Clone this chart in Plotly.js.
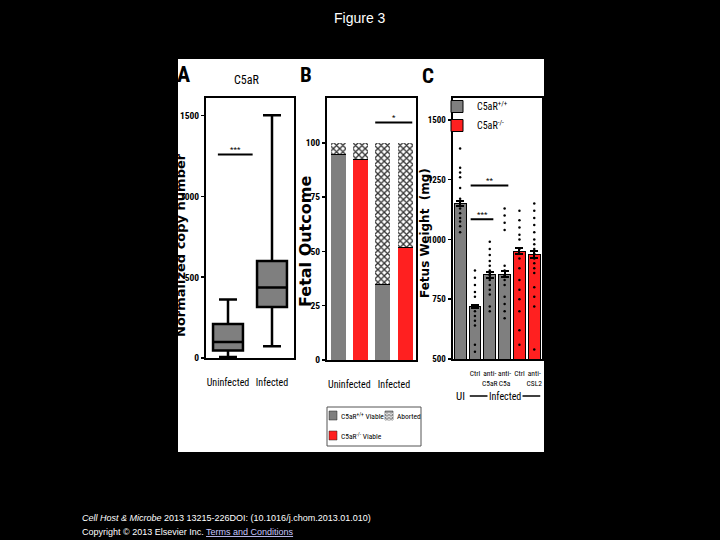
<!DOCTYPE html>
<html>
<head>
<meta charset="utf-8">
<script src="https://cdn.plot.ly/plotly-3.0.1.min.js"></script>
<style>html,body{margin:0;padding:0;background:#000;}#chart{width:720px;height:540px;}</style>
</head>
<body>
<div id="chart"></div>
<script>
// ---------- Panel A: C5aR copy number (box plot) ----------
const boxCategories = ['Uninfected', 'Infected'];
const boxLowerFence = [6, 72];
const boxQ1 = [46, 316];
const boxMedian = [99, 436];
const boxQ3 = [211, 601];
const boxUpperFence = [362, 1503];

// ---------- Panel B: fetal outcome (%) ----------
const outcomeGroups = ['Uninfected', 'Infected'];
const wtViable = [95, 35];      // C5aR+/+ viable
const koViable = [92.5, 52];    // C5aR-/- viable

// ---------- Panel C: fetus weight (mg) ----------
const weightTickVals = [1, 2, 3, 4, 5];
const weightTickText = ['Ctrl', 'anti-<br>C5aR', 'anti-<br>C5a', 'Ctrl', 'anti-<br>CSL2'];
const weightMeans = [1150, 719, 852, 855, 951, 937];
const weightSem = [10, 7, 12, 12, 12, 14];
const fetusUI = [1380, 1300, 1280, 1260, 1215, 1170, 1150, 1130, 1110, 1090, 1075, 1055, 1030];
const fetusCtrl = [870, 840, 810, 780, 760, 700, 680, 660, 640, 560, 530];
const fetusAntiC5aR = [990, 960, 935, 910, 890, 870, 860, 850, 830, 810, 790, 770, 720, 700];
const fetusAntiC5a = [1130, 1100, 1070, 1040, 890, 870, 850, 830, 810, 760, 730, 700, 670];
const fetusKoCtrl = [1120, 1080, 1050, 1020, 1000, 960, 940, 920, 880, 830, 790, 750, 700, 620, 560];
const fetusKoAntiCSL2 = [1150, 1120, 1090, 1060, 1030, 1000, 980, 960, 940, 920, 900, 880, 860, 800, 760, 720, 540];

// significance brackets: [from, to, level, label]
const sigA = [[-0.23, 0.56, 1260, '***']];
const sigB = [[1.66, 3.32, 109.4, '*']];
const sigC = [[0.71, 3.25, 1226, '**'], [0.71, 2.24, 1085, '***']];

const W = 720, H = 540;
const px = v => v / W;
const py = v => 1 - v / H;
const narrow = "'Roboto Condensed','Noto Sans Condensed','DejaVu Sans Condensed','Liberation Sans Narrow','Arial Narrow','Liberation Sans',Arial,sans-serif";
const heavy = "'DejaVu Sans', 'Liberation Sans', sans-serif";
const sans = "'Liberation Sans', Arial, sans-serif";
const GRAY = '#7f7f7f', RED = '#ff2020';

const traces = [];

// A
traces.push({
  type: 'box', x: [0, 1], q1: boxQ1, median: boxMedian, q3: boxQ3,
  lowerfence: boxLowerFence, upperfence: boxUpperFence,
  xaxis: 'x', yaxis: 'y', fillcolor: GRAY, line: {color: 'black', width: 2.5},
  width: 0.68, whiskerwidth: 0.6, boxpoints: false, showlegend: false, hoverinfo: 'skip'
});

// B
traces.push({
  type: 'bar', x: [0, 2], y: wtViable, xaxis: 'x2', yaxis: 'y2', width: 0.67,
  name: 'C5aR+/+ Viable', showlegend: false,
  marker: {color: GRAY, line: {width: 0}},
  error_y: {type: 'data', array: [0, 0], visible: true, color: 'black', thickness: 2, width: 7.5}
});
traces.push({
  type: 'bar', x: [1, 3], y: koViable, xaxis: 'x2', yaxis: 'y2', width: 0.67,
  name: 'C5aR-/- Viable', showlegend: false,
  marker: {color: RED, line: {width: 0}},
  error_y: {type: 'data', array: [0, 0], visible: true, color: 'black', thickness: 2, width: 7.5}
});
const abortedVals = [100 - wtViable[0], 100 - koViable[0], 100 - wtViable[1], 100 - koViable[1]];
traces.push({
  type: 'bar', x: [0, 1, 2, 3], y: abortedVals, xaxis: 'x2', yaxis: 'y2', width: 0.67,
  name: 'Aborted', showlegend: false,
  marker: {color: 'white', line: {width: 0}, pattern: {shape: 'x', fgcolor: '#333', bgcolor: 'white', size: 4.5, solidity: 0.5}}
});

// C
traces.push({
  type: 'bar', x: [0, 1, 2, 3], y: weightMeans.slice(0, 4), base: 0, xaxis: 'x3', yaxis: 'y3', width: 0.8,
  name: 'C5aR<sup>+/+</sup>', legend: 'legend',
  marker: {color: GRAY, line: {color: 'black', width: 1}},
  error_y: {type: 'data', array: weightSem.slice(0, 4), visible: true, color: 'black', thickness: 2, width: 4}
});
traces.push({
  type: 'bar', x: [4, 5], y: weightMeans.slice(4), base: 0, xaxis: 'x3', yaxis: 'y3', width: 0.8,
  name: 'C5aR<sup>-/-</sup>', legend: 'legend',
  marker: {color: RED, line: {color: 'black', width: 1}},
  error_y: {type: 'data', array: weightSem.slice(4), visible: true, color: 'black', thickness: 2, width: 4}
});
const groups = [fetusUI, fetusCtrl, fetusAntiC5aR, fetusAntiC5a, fetusKoCtrl, fetusKoAntiCSL2];
const dotX = [], dotY = [];
groups.forEach((g, i) => g.forEach(v => { dotX.push(i); dotY.push(v); }));
traces.push({
  type: 'scatter', mode: 'markers', x: dotX, y: dotY, xaxis: 'x3', yaxis: 'y3',
  marker: {color: 'black', size: 2.5, symbol: 'circle'}, showlegend: false, hoverinfo: 'skip'
});

const axBase = {
  showline: true, mirror: true, linecolor: 'black', linewidth: 2, showgrid: false, zeroline: false,
  fixedrange: true, color: 'black', tickangle: 0
};
const yBase = Object.assign({}, axBase, {
  ticks: 'outside', ticklen: 3, tickwidth: 1.5, tickcolor: 'black',
  tickfont: {family: narrow, size: 9.5, color: 'black', weight: 'bold'}
});
const xBase = Object.assign({}, axBase, {ticks: '', tickfont: {family: narrow, size: 10, color: 'black'}});

const shapes = [
  {type: 'rect', xref: 'paper', yref: 'paper', x0: px(178), x1: px(544), y0: py(452), y1: py(59),
   fillcolor: 'white', line: {width: 0}, layer: 'below'},
  // legend frame of panel B
  {type: 'rect', xref: 'paper', yref: 'paper', x0: px(327), x1: px(421), y0: py(446), y1: py(407),
   line: {color: '#555', width: 1}, fillcolor: 'rgba(0,0,0,0)'},
  // legend keys of panel B
  {type: 'rect', xref: 'paper', yref: 'paper', x0: px(329), x1: px(337), y0: py(420), y1: py(411),
   fillcolor: GRAY, line: {color: '#222', width: 0.5}},
  {type: 'rect', xref: 'paper', yref: 'paper', x0: px(329), x1: px(337), y0: py(440), y1: py(431),
   fillcolor: RED, line: {color: '#222', width: 0.5}},
  {type: 'rect', xref: 'paper', yref: 'paper', x0: px(385), x1: px(393), y0: py(420), y1: py(411),
   fillcolor: '#a0a0a0', line: {color: '#222', width: 0.5}},
  // "Infected" group rule of panel C
  {type: 'line', xref: 'x3', yref: 'paper', x0: 0.65, x1: 5.4, y0: py(396), y1: py(396),
   line: {color: 'black', width: 1.5}}
];
// hatch inside the "Aborted" key
for (let k = 0; k < 3; k++) {
  shapes.push({type: 'path', xref: 'paper', yref: 'paper',
    path: 'M' + px(385) + ',' + py(413 + 3 * k) + ' L' + px(387) + ',' + py(414.5 + 3 * k) + ' L' + px(389) + ',' + py(413 + 3 * k) +
          ' L' + px(391) + ',' + py(414.5 + 3 * k) + ' L' + px(393) + ',' + py(413 + 3 * k),
    line: {color: '#fff', width: 0.8}});
}
const annotations = [];
function addSig(list, xr, yr) {
  list.forEach(s => {
    shapes.push({type: 'line', xref: xr, yref: yr, x0: s[0], x1: s[1], y0: s[2], y1: s[2], line: {color: 'black', width: 2}});
    annotations.push({xref: xr, yref: yr, x: (s[0] + s[1]) / 2, y: s[2], xanchor: 'center', yanchor: 'bottom', yshift: -2,
      text: s[3], showarrow: false, font: {family: narrow, size: 8, color: 'black'}});
  });
}
addSig(sigA, 'x', 'y');
addSig(sigB, 'x2', 'y2');
addSig(sigC, 'x3', 'y3');

function txt(x, y, text, font, extra) {
  annotations.push(Object.assign({xref: 'paper', yref: 'paper', x: px(x), y: py(y), text: text,
    xanchor: 'center', yanchor: 'middle', showarrow: false, font: font}, extra || {}));
}
txt(360, 18, 'Figure 3', {family: sans, size: 14, color: 'white'});
txt(80, 518, '<i>Cell Host &amp; Microbe</i> 2013 13215-226DOI: (10.1016/j.chom.2013.01.010)',
    {family: sans, size: 9, color: 'white'}, {xanchor: 'left'});
txt(80, 532, 'Copyright © 2013 Elsevier Inc. <span style="color:#c8c8ff"><u>Terms and Conditions</u></span>',
    {family: sans, size: 9, color: 'white'}, {xanchor: 'left'});
txt(183, 74, '<b>A</b>', {family: narrow, size: 22, color: 'black'});
txt(306, 75, '<b>B</b>', {family: narrow, size: 21, color: 'black'});
txt(428, 76, '<b>C</b>', {family: narrow, size: 21, color: 'black'});
txt(246, 80, 'C5aR', {family: narrow, size: 12, color: 'black'});
txt(180, 245, '<b>Normalized copy number</b>', {family: heavy, size: 13, color: 'black'}, {textangle: -90});
txt(305, 242, '<b>Fetal Outcome</b>', {family: heavy, size: 16, color: 'black'}, {textangle: -90});
txt(425, 233, '<b>Fetus Weight  (mg)</b>', {family: heavy, size: 12, color: 'black'}, {textangle: -90});
txt(338.5, 416, 'C5aR<sup>+/+</sup> Viable', {family: narrow, size: 7.5, color: 'black'}, {xanchor: 'left'});
txt(338.5, 436, 'C5aR<sup>-/-</sup> Viable', {family: narrow, size: 7.5, color: 'black'}, {xanchor: 'left'});
txt(394.5, 416, 'Aborted', {family: narrow, size: 7.5, color: 'black'}, {xanchor: 'left'});
annotations.push({xref: 'x3', yref: 'paper', x: 0, y: py(396), xanchor: 'center', yanchor: 'middle', text: 'UI', showarrow: false,
  font: {family: narrow, size: 11, color: 'black'}});
annotations.push({xref: 'x3', yref: 'paper', x: 3, y: py(396), xanchor: 'center', yanchor: 'middle', text: 'Infected', showarrow: false,
  bgcolor: 'white', borderpad: 1, font: {family: narrow, size: 10, color: 'black'}});

const layout = {
  width: W, height: H, margin: {l: 0, r: 0, t: 0, b: 0, pad: 0},
  paper_bgcolor: 'black', plot_bgcolor: 'white', barmode: 'stack', showlegend: true,
  xaxis: Object.assign({}, xBase, {domain: [px(206), px(294)], range: [-0.5, 1.5], tickvals: [0, 1],
    ticktext: boxCategories, ticklabelstandoff: 14, anchor: 'y'}),
  yaxis: Object.assign({}, yBase, {domain: [py(358), py(97.7)], range: [0, 1611], tickvals: [0, 500, 1000, 1500], anchor: 'x'}),
  xaxis2: Object.assign({}, xBase, {domain: [px(327), px(416.3)], range: [-0.5, 3.5], tickvals: [0.5, 2.5],
    ticktext: outcomeGroups, ticklabelstandoff: 14, anchor: 'y2'}),
  yaxis2: Object.assign({}, yBase, {domain: [py(360), py(97.7)], range: [0, 120.8], tickvals: [0, 25, 50, 75, 100], anchor: 'x2'}),
  xaxis3: Object.assign({}, xBase, {domain: [px(452.7), px(541.7)], range: [-0.5, 5.5], tickvals: weightTickVals,
    ticktext: weightTickText, ticklabelstandoff: 6, tickfont: {family: narrow, size: 7.5, color: 'black'}, anchor: 'y3'}),
  yaxis3: Object.assign({}, yBase, {domain: [py(359), py(97.7)], range: [500, 1593], tickvals: [500, 750, 1000, 1250, 1500], anchor: 'x3',
    tickfont: {family: narrow, size: 9, color: 'black', weight: 'bold'}}),
  legend: {x: px(437), y: py(92), xanchor: 'left', yanchor: 'top', bgcolor: 'rgba(0,0,0,0)', borderwidth: 0,
    tracegroupgap: 0, itemwidth: 30, traceorder: 'normal', font: {family: narrow, size: 10, color: 'black'}},
  shapes: shapes,
  annotations: annotations
};

Plotly.newPlot('chart', traces, layout, {displayModeBar: false, staticPlot: true});
</script>
</body>
</html>
